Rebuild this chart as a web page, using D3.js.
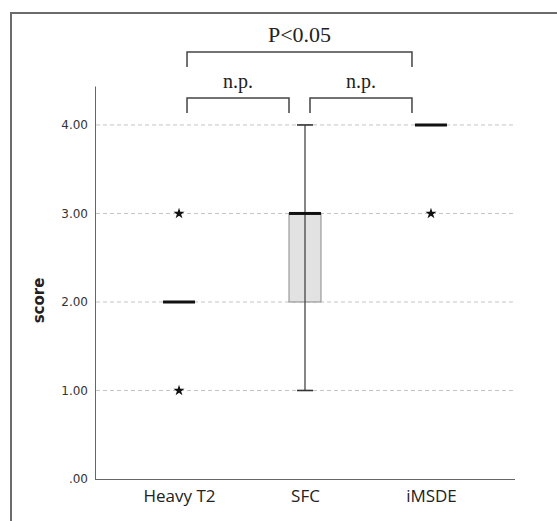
<!DOCTYPE html>
<html>
<head>
<meta charset="utf-8">
<script src="https://cdn.jsdelivr.net/npm/d3@7"></script>
<style>
  body { margin: 0; background: #fff; }
</style>
</head>
<body>
<div id="chart"></div>
<script>
// data
const groups = ["Heavy T2", "SFC", "iMSDE"];
const whiskerLow = [2, 1, 4];
const q1 = [2, 2, 4];
const median = [2, 3, 4];
const q3 = [2, 3, 4];
const whiskerHigh = [2, 4, 4];
const outliers = [[3, 1], [], [3]];
const yTicks = [0, 1, 2, 3, 4];
const comparisons = [
  { from: "Heavy T2", to: "SFC", label: "n.p.", level: 0 },
  { from: "SFC", to: "iMSDE", label: "n.p.", level: 0 },
  { from: "Heavy T2", to: "iMSDE", label: "P<0.05", level: 1 }
];

const W = 557, H = 521;
const svg = d3.select("#chart").append("svg")
  .attr("width", W)
  .attr("height", H);

// outer frame (only top and left visible)
svg.append("path")
  .attr("d", `M11,${H} L11,13 L${W},13`)
  .attr("fill", "none")
  .attr("stroke", "#6b6b6b")
  .attr("stroke-width", 2);

const plot = { left: 95, right: 515, top: 86, bottom: 479 };

const x = d3.scalePoint()
  .domain(groups)
  .range([plot.left, plot.right])
  .padding(0.667);

const y = d3.scaleLinear()
  .domain([0, 4.44])
  .range([plot.bottom, plot.top]);

// gridlines
svg.append("g")
  .selectAll("line")
  .data(yTicks.filter(d => d > 0))
  .join("line")
  .attr("x1", plot.left + 1)
  .attr("x2", plot.right)
  .attr("y1", d => y(d))
  .attr("y2", d => y(d))
  .attr("stroke", "#c4c4c4")
  .attr("stroke-width", 1)
  .attr("stroke-dasharray", "4,3");

// axes
const yAxis = svg.append("g")
  .attr("transform", `translate(${plot.left},0)`)
  .call(d3.axisLeft(y).tickValues(yTicks).tickSize(0).tickPadding(7)
    .tickFormat(d => d === 0 ? ".00" : d3.format(".2f")(d)));
yAxis.select(".domain").attr("stroke", "#666");
yAxis.selectAll("text")
  .style("font-family", "DejaVu Sans")
  .style("font-size", "12px")
  .attr("fill", "#333");

const xAxis = svg.append("g")
  .attr("transform", `translate(0,${plot.bottom})`)
  .call(d3.axisBottom(x).tickSize(0).tickPadding(11));
xAxis.select(".domain").attr("stroke", "#666").attr("d", `M${plot.left},0.5H${plot.right}`);
xAxis.selectAll("text")
  .style("font-family", "Open Sans")
  .style("font-size", "17px")
  .attr("fill", "#222");

svg.append("text")
  .attr("transform", `translate(44,${(plot.top + plot.bottom) / 2 + 18}) rotate(-90)`)
  .attr("text-anchor", "middle")
  .style("font-family", "DejaVu Sans")
  .style("font-size", "15px")
  .style("font-weight", "bold")
  .attr("fill", "#222")
  .text("score");

// boxes
const boxW = 32, capW = 16;
const stats = groups.map((g, i) => ({
  g, lo: whiskerLow[i], q1: q1[i], med: median[i], q3: q3[i], hi: whiskerHigh[i], out: outliers[i]
}));

const box = svg.append("g").selectAll("g")
  .data(stats)
  .join("g")
  .attr("transform", d => `translate(${x(d.g)},0)`);

box.filter(d => d.q3 > d.q1).append("rect")
  .attr("x", -boxW / 2)
  .attr("width", boxW)
  .attr("y", d => y(d.q3))
  .attr("height", d => y(d.q1) - y(d.q3))
  .attr("fill", "#e2e2e2")
  .attr("stroke", "#8a8a8a")
  .attr("stroke-width", 1);

box.filter(d => d.hi > d.lo).append("line")
  .attr("x1", 0).attr("x2", 0)
  .attr("y1", d => y(d.lo))
  .attr("y2", d => y(d.hi))
  .attr("stroke", "#444")
  .attr("stroke-width", 1.3);

box.filter(d => d.hi > d.lo).selectAll("line.cap")
  .data(d => [d.lo, d.hi])
  .join("line")
  .attr("class", "cap")
  .attr("x1", -capW / 2).attr("x2", capW / 2)
  .attr("y1", d => y(d)).attr("y2", d => y(d))
  .attr("stroke", "#333")
  .attr("stroke-width", 1.6);

box.append("line")
  .attr("x1", -boxW / 2).attr("x2", boxW / 2)
  .attr("y1", d => y(d.med)).attr("y2", d => y(d.med))
  .attr("stroke", "#111")
  .attr("stroke-width", 3);

box.selectAll("path.out")
  .data(d => d.out)
  .join("path")
  .attr("class", "out")
  .attr("transform", d => `translate(0,${y(d)})`)
  .attr("d", d3.symbol(d3.symbolStar, 38))
  .attr("fill", "#111");

// significance brackets
const bracketY = [98, 52];
const bracketDrop = 15;
const inset = { "Heavy T2": 8, "SFC": -16, "iMSDE": -19 };
const insetR = { "SFC": 5 };

comparisons.forEach(c => {
  const x1 = x(c.from) + (c.from === "SFC" ? insetR.SFC : inset[c.from]);
  const x2 = x(c.to) + inset[c.to];
  const by = bracketY[c.level];
  svg.append("path")
    .attr("d", `M${x1},${by + bracketDrop} V${by} H${x2} V${by + bracketDrop}`)
    .attr("fill", "none")
    .attr("stroke", "#444")
    .attr("stroke-width", 1.5);
  svg.append("text")
    .attr("x", (x1 + x2) / 2)
    .attr("y", by - 10)
    .attr("text-anchor", "middle")
    .style("font-family", "Liberation Serif")
    .style("font-size", c.level ? "22px" : "20px")
    .attr("fill", "#222")
    .text(c.label);
});
</script>
</body>
</html>
